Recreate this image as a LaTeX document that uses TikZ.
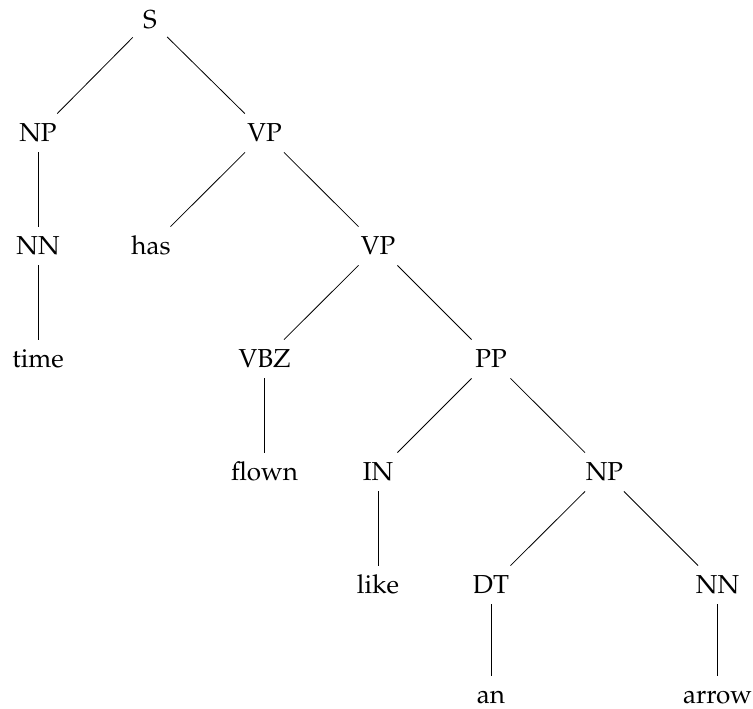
\documentclass[tikz,border=0pt]{standalone}
\usepackage[T1]{fontenc}
\usepackage{mathpazo}
\usepackage{tikz}

\tikzset{treenode/.style={anchor=base,inner xsep=5pt,inner ysep=4pt,text height=9.5pt,text depth=1.5pt,font=\fontsize{13}{15}\selectfont}}

\begin{document}
\begin{tikzpicture}[x=0.5pt,y=0.5pt,yscale=-1,xscale=1]
\useasboundingbox (0,0) rectangle (753,708);

% Text Node
\node [treenode] (s) at (150,28) {S};
% Text Node
\node [treenode] (np1) at (38,141) {NP};
% Text Node
\node [treenode] (vp1) at (264.5,141) {VP};
% Text Node
\node [treenode] (nn1) at (38,254) {NN};
% Text Node
\node [treenode] (has) at (151,254) {has};
% Text Node
\node [treenode] (vp2) at (378,254) {VP};
% Text Node
\node [treenode] (time) at (38,367) {time};
% Text Node
\node [treenode] (vbz) at (264.5,367) {VBZ};
% Text Node
\node [treenode] (pp) at (491,367) {PP};
% Text Node
\node [treenode] (flown) at (264.5,480) {flown};
% Text Node
\node [treenode] (in) at (378,480) {IN};
% Text Node
\node [treenode] (np2) at (604.5,480) {NP};
% Text Node
\node [treenode] (like) at (378,593) {like};
% Text Node
\node [treenode] (dt) at (491,593) {DT};
% Text Node
\node [treenode] (nn2) at (717.5,593) {NN};
% Text Node
\node [treenode] (an) at (491,703) {an};
% Text Node
\node [treenode] (arrow) at (717.5,703) {arrow};

%Straight Lines
\draw (s) -- (np1) ;
\draw (s) -- (vp1) ;
\draw (np1) -- (nn1) ;
\draw (nn1) -- (time) ;
\draw (vp1) -- (has) ;
\draw (vp1) -- (vp2) ;
\draw (vp2) -- (vbz) ;
\draw (vp2) -- (pp) ;
\draw (vbz) -- (flown) ;
\draw (pp) -- (in) ;
\draw (pp) -- (np2) ;
\draw (in) -- (like) ;
\draw (np2) -- (dt) ;
\draw (np2) -- (nn2) ;
\draw (dt) -- (an) ;
\draw (nn2) -- (arrow) ;

\end{tikzpicture}
\end{document}
